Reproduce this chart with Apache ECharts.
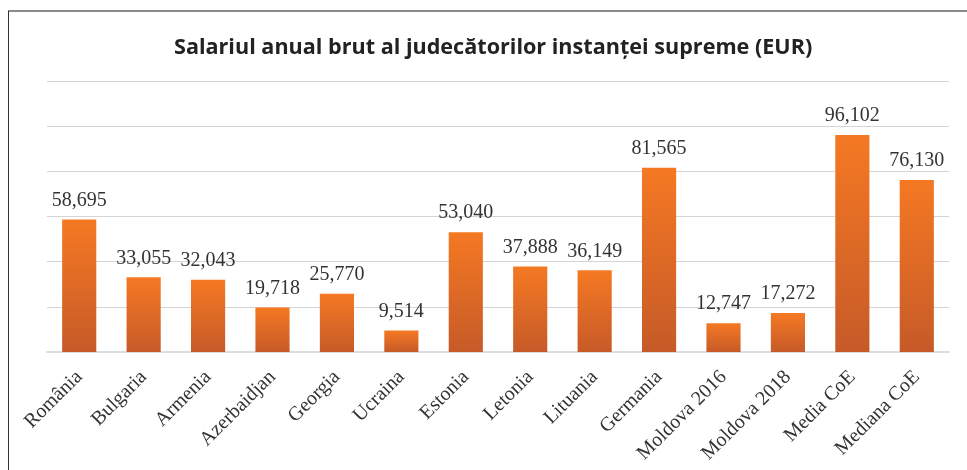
<!DOCTYPE html>
<html>
<head>
<meta charset="utf-8">
<script src="https://cdn.jsdelivr.net/npm/echarts@6/dist/echarts.min.js"></script>
<style>
  html, body { margin: 0; padding: 0; background: #fff; }
  #chart { width: 967px; height: 470px; }
</style>
</head>
<body>
<div id="chart"></div>
<script>
// categories and values
const categories = ['România', 'Bulgaria', 'Armenia', 'Azerbaidjan', 'Georgia', 'Ucraina', 'Estonia',
  'Letonia', 'Lituania', 'Germania', 'Moldova 2016', 'Moldova 2018', 'Media CoE', 'Mediana CoE']
const salaries = [58695, 33055, 32043, 19718, 25770, 9514, 53040,
  37888, 36149, 81565, 12747, 17272, 96102, 76130]

const serif = '"Liberation Serif", "DejaVu Serif", serif'
const chart = echarts.init(document.getElementById('chart'))

chart.setOption({
  animation: false,
  title: {
    text: 'Salariul anual brut al judecătorilor instanței supreme (EUR)',
    left: 169,
    top: 32,
    textStyle: {
      fontFamily: '"Open Sans", "Noto Sans", sans-serif',
      fontWeight: 'bold',
      fontSize: 21.6,
      color: '#222'
    }
  },
  graphic: [
    // frame lines round the chart
    { type: 'line', shape: { x1: 8, y1: 11, x2: 967, y2: 11 }, style: { stroke: '#8a8a8a', lineWidth: 2 } },
    { type: 'line', shape: { x1: 8.5, y1: 11, x2: 8.5, y2: 470 }, style: { stroke: '#333', lineWidth: 1 } }
  ],
  grid: {
    left: 47,
    right: 18,
    top: 81,
    bottom: 118,
    containLabel: false,
    outerBoundsMode: 'none'
  },
  xAxis: {
    type: 'category',
    data: categories,
    axisTick: { show: false },
    axisLine: { lineStyle: { color: '#d9dde4', width: 2 } },
    axisLabel: {
      rotate: 45,
      interval: 0,
      margin: 22,
      fontFamily: serif,
      fontSize: 20,
      color: '#333'
    }
  },
  yAxis: {
    type: 'value',
    min: 0,
    max: 120000,
    interval: 20000,
    axisLabel: { show: false },
    axisLine: { show: false },
    axisTick: { show: false },
    splitLine: { lineStyle: { color: '#d4d4d4', width: 1 } }
  },
  series: [{
    type: 'bar',
    data: salaries,
    barWidth: '53%',
    itemStyle: {
      color: new echarts.graphic.LinearGradient(0, 0, 0, 1, [
        { offset: 0, color: '#f57923' },
        { offset: 1, color: '#c65a28' }
      ])
    },
    label: {
      show: true,
      position: 'top',
      distance: 9,
      fontFamily: serif,
      fontSize: 20,
      color: '#333',
      formatter: p => p.value.toLocaleString('en-US')
    }
  }]
})
</script>
</body>
</html>
